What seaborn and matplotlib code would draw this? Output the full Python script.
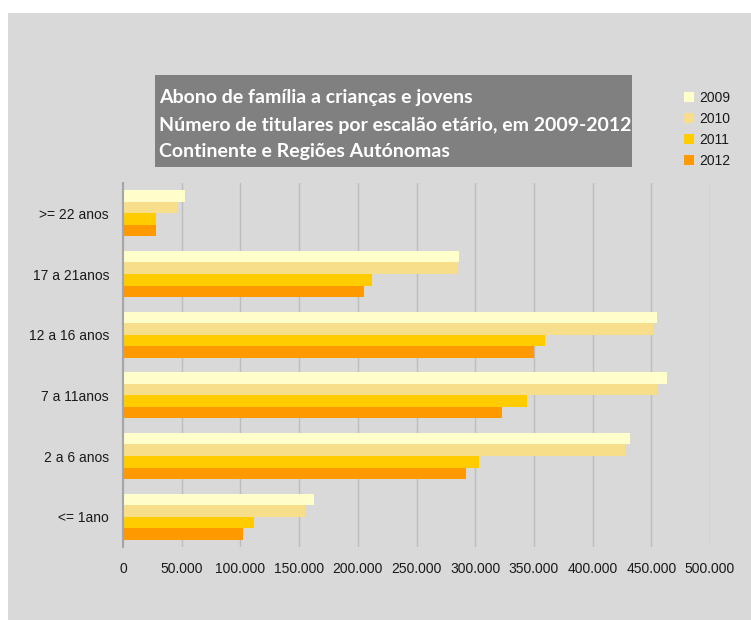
import matplotlib
matplotlib.use("Agg")
import matplotlib.pyplot as plt
from matplotlib.patches import Rectangle
from matplotlib.ticker import FuncFormatter, FixedLocator
import seaborn as sns
import pandas as pd

# Age brackets (top to bottom) and number of beneficiaries per year
escaloes = [">= 22 anos", "17 a 21anos", "12 a 16 anos", "7 a 11anos", "2 a 6 anos", "<= 1ano"]
anos = ["2009", "2010", "2011", "2012"]
v2009 = [52500, 286000, 455000, 463000, 432000, 163000]
v2010 = [46500, 285000, 451500, 455000, 428000, 155000]
v2011 = [28000, 212000, 359500, 344000, 303500, 112000]
v2012 = [27800, 205000, 350500, 323000, 292000, 102500]
cores = ["#ffffcc", "#f6de8a", "#ffcc00", "#ff9900"]

titulo = ["Abono de família a crianças e jovens",
          "Número de titulares por escalão etário, em 2009-2012",
          "Continente e Regiões Autónomas"]

rows = []
for ano, vals in zip(anos, [v2009, v2010, v2011, v2012]):
    for esc, v in zip(escaloes, vals):
        rows.append({"escalao": esc, "ano": ano, "titulares": v})
df = pd.DataFrame(rows)

sns.set_theme(style="white")
plt.rcParams["font.family"] = ["Liberation Sans", "DejaVu Sans"]

bg = "#d9d9d9"
fig = plt.figure(figsize=(7.51, 6.2), dpi=100, facecolor="white")
# grey panel behind everything (white strip on top and left)
fig.patches.append(Rectangle((8 / 751, 0), 1, 1 - 13 / 620, transform=fig.transFigure,
                             facecolor=bg, edgecolor="none", zorder=-10))

ax = fig.add_axes([123 / 751, 1 - 547 / 620, (710 - 123) / 751, (547 - 183) / 620])
ax.set_zorder(2)
ax.set_facecolor(bg)

sns.barplot(data=df, y="escalao", x="titulares", hue="ano", order=escaloes,
            hue_order=anos, palette=cores, orient="h", width=0.76, saturation=1,
            dodge=True, gap=0, linewidth=0, ax=ax, legend=True, zorder=3)

ax.set_xlim(0, 500000)
ax.set_ylim(len(escaloes) - 0.5, -0.5)
ax.set_xticks(range(0, 500001, 50000))
ax.xaxis.set_major_formatter(FuncFormatter(lambda x, p: f"{int(x):,}".replace(",", ".")))
ax.grid(axis="x", color="#bdbdbd", linewidth=1, zorder=0)
ax.set_axisbelow(True)
ax.set_xlabel("")
ax.set_ylabel("")

for s in ["top", "right", "bottom"]:
    ax.spines[s].set_visible(False)
ax.spines["left"].set_color("#a6a6a6")
ax.spines["left"].set_linewidth(1.5)
ax.spines["left"].set_zorder(4)

ax.tick_params(axis="x", length=0, pad=11, labelsize=10, labelcolor="#1a1a1a")
ax.tick_params(axis="y", which="major", length=0, pad=10, labelsize=10, labelcolor="#1a1a1a")
ax.yaxis.set_minor_locator(FixedLocator([i - 0.5 for i in range(len(escaloes) + 1)]))
ax.tick_params(axis="y", which="minor", length=5, width=1.2, color="#a6a6a6", direction="out")

# legend on the right of the title box
handles, labels = ax.get_legend_handles_labels()
ax.get_legend().remove()
leg = fig.legend(handles, labels, loc="upper left", bbox_to_anchor=(684 / 751, 1 - 91 / 620),
                 frameon=False, fontsize=10, handlelength=0.75, handleheight=0.75,
                 handletextpad=0.35, labelspacing=0.5, borderaxespad=0, borderpad=0)
for t in leg.get_texts():
    t.set_color("#1a1a1a")

# title box
fig.patches.append(Rectangle((155 / 751, 1 - 167 / 620), (632 - 155) / 751, (167 - 75) / 620,
                             transform=fig.transFigure, facecolor="#808080",
                             edgecolor="none", zorder=1))
for i, linha in enumerate(titulo):
    fig.text(159 / 751, 1 - (98 + 27 * i) / 620, linha, color="white", fontsize=14,
             fontweight="bold", family=["Lato", "DejaVu Sans"], va="center", ha="left",
             zorder=2)

fig.savefig("out.png", dpi=100, facecolor=fig.get_facecolor())
